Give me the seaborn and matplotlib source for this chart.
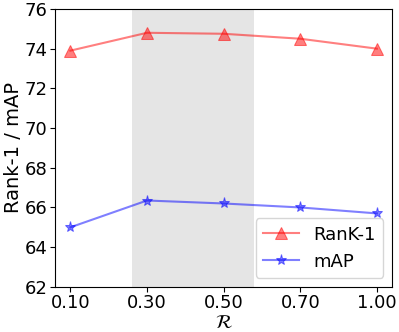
import pandas as pd
import matplotlib
matplotlib.use('Agg')
import matplotlib.pyplot as plt
import seaborn as sns

ratios = ['0.10', '0.30', '0.50', '0.70', '1.00']
rank1 = [73.9, 74.8, 74.75, 74.5, 74.0]
mAP = [65.0, 66.35, 66.2, 66.0, 65.7]

df = pd.DataFrame({'R': ratios, 'RanK-1': rank1, 'mAP': mAP})

fig, ax = plt.subplots(figsize=(3.99, 3.32), dpi=100)
fig.subplots_adjust(left=0.138, right=0.983, top=0.973, bottom=0.136)

# highlighted range around 0.30 - 0.50
ax.axvspan(0.8, 2.4, color='gray', alpha=0.2, lw=0)

sns.lineplot(data=df, x='R', y='RanK-1', ax=ax, color='red', alpha=0.5,
             marker='^', markersize=9, markeredgecolor='red', label='RanK-1')
sns.lineplot(data=df, x='R', y='mAP', ax=ax, color='blue', alpha=0.5,
             marker='*', markersize=8, markeredgecolor='blue', label='mAP')

ax.set_ylim(62, 76)
ax.set_yticks([62, 64, 66, 68, 70, 72, 74, 76])
ax.set_xlabel(r'$\mathcal{R}$', fontsize=14, labelpad=0)
ax.set_ylabel('Rank-1 / mAP', fontsize=14, labelpad=1)
ax.tick_params(labelsize=13, pad=2)
ax.legend(loc='lower right', fontsize=13)

plt.savefig('out.png', dpi=100)
